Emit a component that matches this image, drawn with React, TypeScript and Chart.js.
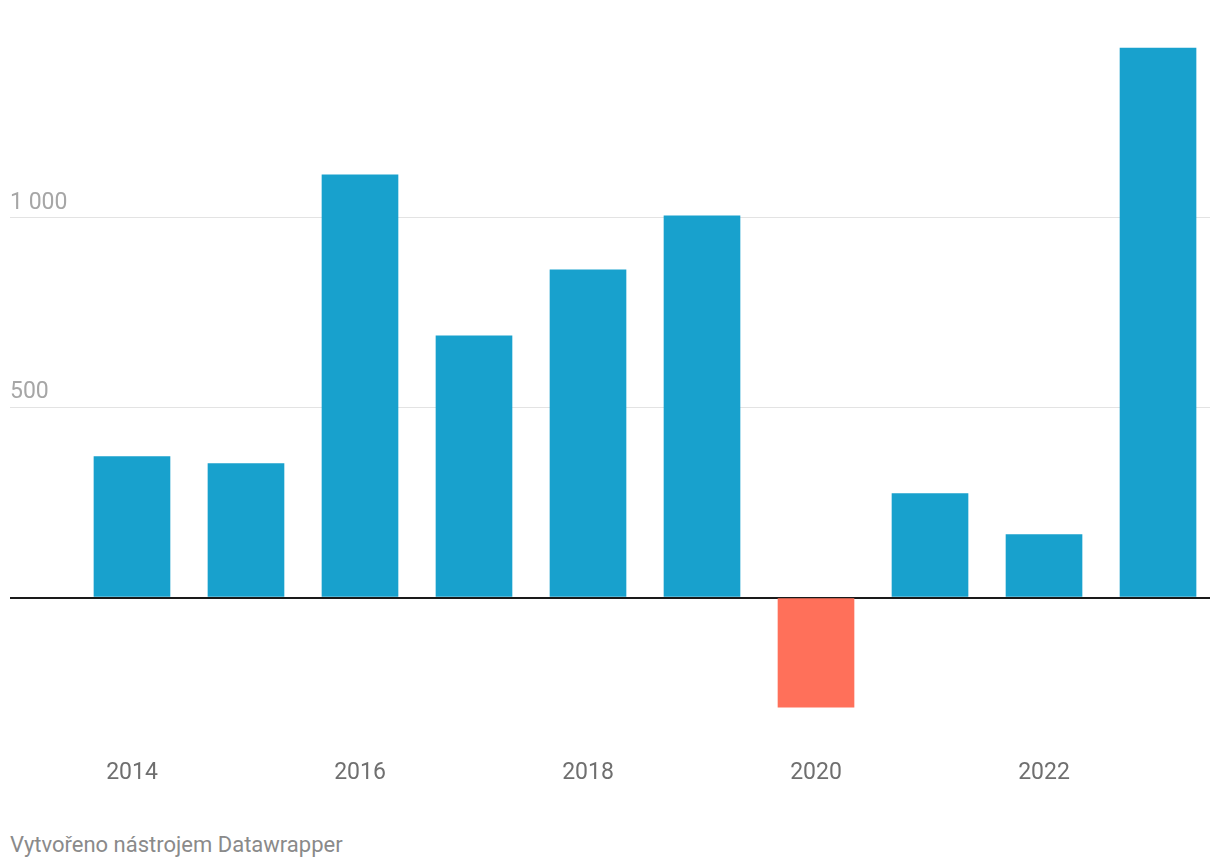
import React, { useEffect, useRef } from "react";
import { Chart, registerables } from "chart.js";

Chart.register(...registerables);

const years = [2014, 2015, 2016, 2017, 2018, 2019, 2020, 2021, 2022, 2023];
const values = [371, 353, 1113, 689, 863, 1005, -289, 274, 166, 1447];
const xTickYears = [2014, 2016, 2018, 2020, 2022];
const yTickValues = [0, 500, 1000];
const footerText = "Vytvořeno nástrojem Datawrapper";

const BLUE = "#18a1cd";
const RED = "#ff705a";

function formatThousands(v: number): string {
  return String(v).replace(/\B(?=(\d{3})+(?!\d))/g, " ");
}

export default function App() {
  const canvasRef = useRef<HTMLCanvasElement | null>(null);

  useEffect(() => {
    if (!canvasRef.current) return;
    const chart = new Chart(canvasRef.current, {
      type: "bar",
      data: {
        datasets: [
          {
            data: years.map((y, i) => ({ x: y, y: values[i] })),
            backgroundColor: (ctx: any) => {
              const v = ctx.raw ? ctx.raw.y : 0;
              return v < 0 ? RED : BLUE;
            },
            barThickness: 76,
            borderWidth: 0,
          },
        ],
      },
      options: {
        animation: false,
        responsive: false,
        maintainAspectRatio: false,
        devicePixelRatio: 1,
        layout: { padding: { top: 28, left: 10, right: 10, bottom: 3 } },
        plugins: {
          legend: { display: false },
          tooltip: { enabled: false },
        },
        scales: {
          x: {
            type: "linear",
            offset: false,
            min: 2012.93,
            max: 2023.456,
            grid: { display: false, drawTicks: false, offset: false },
            border: { display: false },
            afterBuildTicks: (scale: any) => {
              scale.ticks = xTickYears.map((v) => ({ value: v }));
            },
            ticks: {
              padding: 10,
              color: "#6f6f6f",
              font: { family: "Roboto", size: 23 },
              callback: (v: any) => String(v),
              maxRotation: 0,
              autoSkip: false,
            },
          },
          y: {
            min: -400,
            max: 1500,
            border: { display: false },
            grid: {
              drawTicks: false,
              color: (ctx: any) => (ctx.tick && ctx.tick.value === 0 ? "#1a1a1a" : "#e3e3e3"),
              lineWidth: (ctx: any) => (ctx.tick && ctx.tick.value === 0 ? 2 : 1),
            },
            afterBuildTicks: (scale: any) => {
              scale.ticks = yTickValues.map((v) => ({ value: v }));
            },
            ticks: {
              mirror: true,
              padding: 0,
              labelOffset: -15,
              color: "#a6a6a6",
              font: { family: "Roboto", size: 23 },
              callback: (v: any) => (v === 0 ? "" : formatThousands(Number(v))),
            },
          },
        },
      },
    } as any);
    return () => chart.destroy();
  }, []);

  return (
    <div style={{ position: "absolute", left: 0, top: 0, width: 1220, height: 868, background: "#fff" }}>
      <canvas ref={canvasRef} width={1220} height={800} style={{ display: "block", width: 1220, height: 800 }} />
      <div
        style={{
          position: "absolute",
          left: 10,
          top: 832,
          fontFamily: "Roboto",
          fontSize: 22,
          lineHeight: "26px",
          color: "#8a8a8a",
          whiteSpace: "nowrap",
        }}
      >
        {footerText}
      </div>
    </div>
  );
}
